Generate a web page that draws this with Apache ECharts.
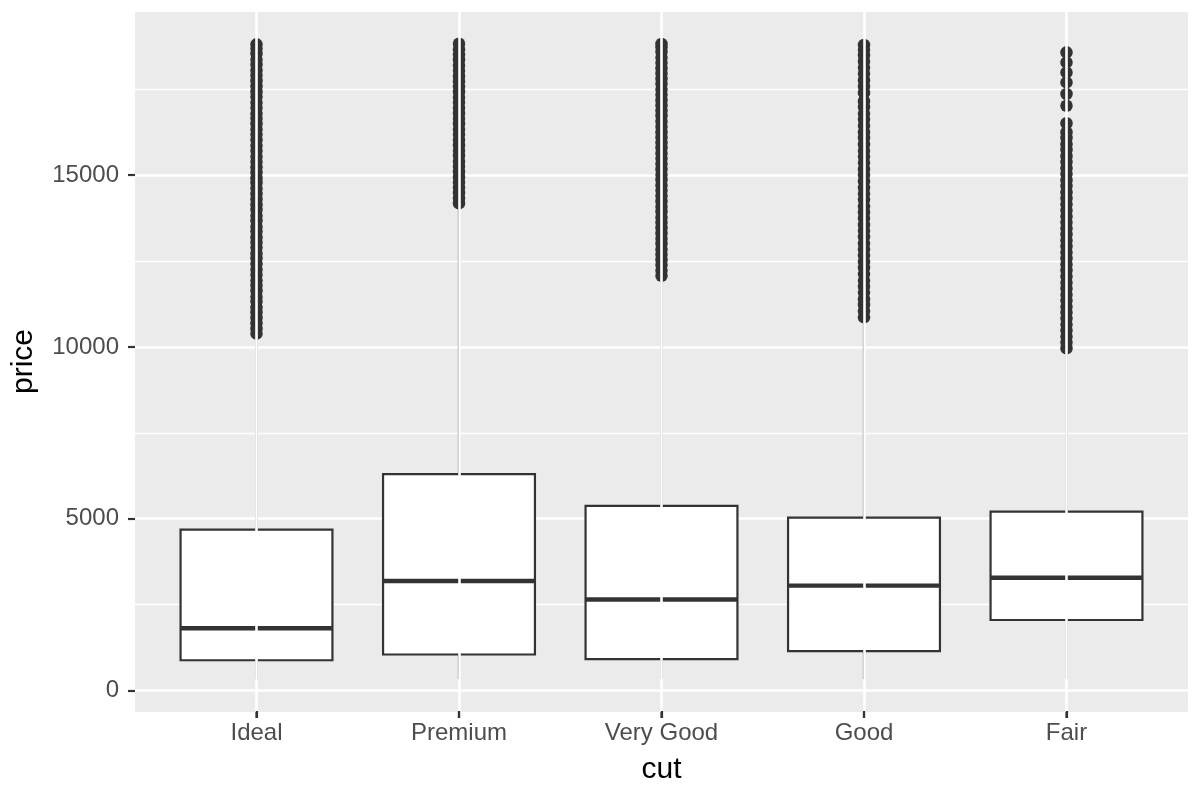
<!DOCTYPE html>
<html>
<head>
<meta charset="utf-8">
<title>price by cut</title>
<script src="https://cdn.jsdelivr.net/npm/echarts@6/dist/echarts.min.js"></script>
<style>
  html, body { margin: 0; padding: 0; background: #fff; }
  #chart { width: 1200px; height: 800px; }
</style>
</head>
<body>
<div id="chart"></div>
<script>
// categories on the x axis
var cuts = ['Ideal', 'Premium', 'Very Good', 'Good', 'Fair']

// box stats per cut: lower whisker, Q1, median, Q3, upper whisker
var whiskerLow = [326, 326, 336, 327, 337]
var q1 = [878, 1046, 912, 1145, 2050]
var median = [1810, 3185, 2648, 3050, 3282]
var q3 = [4678, 6296, 5373, 5028, 5206]
var whiskerHigh = [10370, 14170, 12060, 10850, 9930]

var outIdeal = [10385, 10520, 10690, 10840, 11010, 11150, 11320, 11460, 11630, 11790, 11930, 12100, 12250, 12410, 12580, 12720, 12890, 13040, 13190, 13360, 13500, 13670, 13820, 13990, 14130, 14300, 14450, 14610, 14770, 14910, 15080, 15230, 15390, 15540, 15710, 15860, 16020, 16180, 16330, 16490, 16650, 16790, 16960, 17110, 17280, 17420, 17590, 17740, 17900, 18050, 18210, 18360, 18530, 18680, 18806]
var outPremium = [14180, 14330, 14480, 14630, 14790, 14940, 15090, 15250, 15400, 15560, 15710, 15870, 16020, 16180, 16330, 16490, 16640, 16800, 16950, 17110, 17260, 17420, 17570, 17730, 17880, 18040, 18190, 18350, 18500, 18660, 18823]
var outVeryGood = [12070, 12220, 12380, 12530, 12690, 12840, 13000, 13150, 13310, 13460, 13620, 13770, 13930, 14080, 14240, 14390, 14550, 14700, 14860, 15010, 15170, 15320, 15480, 15630, 15790, 15940, 16100, 16250, 16410, 16560, 16720, 16870, 17030, 17180, 17340, 17490, 17650, 17800, 17960, 18110, 18270, 18420, 18580, 18720, 18818]
var outGood = [10860, 11040, 11220, 11390, 11580, 11760, 11930, 12120, 12300, 12470, 12660, 12840, 13010, 13200, 13380, 13550, 13740, 13920, 14090, 14280, 14460, 14630, 14820, 15000, 15170, 15360, 15540, 15710, 15900, 16080, 16250, 16440, 16620, 16790, 16980, 17150, 17390, 17580, 17760, 17950, 18130, 18310, 18490, 18650, 18788]
var outFair = [9960, 10130, 10300, 10480, 10650, 10830, 11000, 11170, 11350, 11520, 11700, 11870, 12050, 12230, 12400, 12580, 12750, 12930, 13100, 13280, 13450, 13620, 13800, 13970, 14150, 14330, 14500, 14680, 14850, 15030, 15200, 15380, 15550, 15730, 15900, 16080, 16250, 16510, 17020, 17360, 17700, 17990, 18280, 18574]

// y axis range and tick values
var yMin = -598.85
var yMax = 19747.85
var yMajor = [0, 5000, 10000, 15000]
var yMinor = [2500, 7500, 12500, 17500]
var xTicks = [1, 2, 3, 4, 5]

var boxData = cuts.map(function (c, i) {
    return [i + 1, whiskerLow[i], q1[i], median[i], q3[i], whiskerHigh[i]]
})
var outlierData = []
;[outIdeal, outPremium, outVeryGood, outGood, outFair].forEach(function (arr, i) {
    arr.forEach(function (v) { outlierData.push([i + 1, v]) })
})

var ink = '#333333'
var font = "'Liberation Sans', Arial, Helvetica, sans-serif"

var chart = echarts.init(document.getElementById('chart'))
chart.setOption({
    animation: false,
    grid: {
        left: 135, right: 12, top: 12, bottom: 89,
        show: true, backgroundColor: '#EBEBEB', borderWidth: 0
    },
    xAxis: {
        type: 'value', min: 0.4, max: 5.6, position: 'bottom', z: 10,
        name: 'cut', nameLocation: 'middle', nameGap: 44,
        nameTextStyle: { color: '#000', fontSize: 30, fontFamily: font },
        axisLine: { show: true, onZero: false, lineStyle: { color: '#EBEBEB', width: 1 } },
        axisTick: { show: true, length: 7, customValues: xTicks, lineStyle: { color: ink, width: 2.2 } },
        axisLabel: {
            customValues: xTicks, margin: 10, color: '#4D4D4D', fontSize: 24, fontFamily: font,
            formatter: function (v) { return cuts[Math.round(v) - 1] || '' }
        },
        splitLine: { show: true, lineStyle: { color: '#ffffff', width: 2.6 } }
    },
    yAxis: [{
        type: 'value', min: yMin, max: yMax,
        name: 'price', nameLocation: 'middle', nameGap: 96,
        nameTextStyle: { color: '#000', fontSize: 30, fontFamily: font },
        axisLine: { show: false, onZero: false },
        axisTick: { show: true, length: 7, customValues: yMajor, lineStyle: { color: ink, width: 2.2 } },
        axisLabel: {
            customValues: yMajor, margin: 16, color: '#4D4D4D', fontSize: 24, fontFamily: font,
            formatter: function (v) { return String(Math.round(v)) }
        },
        splitLine: { show: true, lineStyle: { color: '#ffffff', width: 2.6 } }
    }, {
        type: 'value', min: yMin, max: yMax, position: 'left',
        axisLine: { show: false, onZero: false },
        axisTick: { show: false, customValues: yMinor },
        axisLabel: { show: false, customValues: yMinor },
        splitLine: { show: true, lineStyle: { color: '#ffffff', width: 1.3 } }
    }],
    series: [{
        type: 'custom',
        xAxisIndex: 0,
        yAxisIndex: 0,
        data: boxData,
        clip: false,
        z: 3,
        renderItem: function (params, api) {
            var x = api.value(0)
            var half = api.size([0.375, 0])[0]
            var pBase = api.coord([x, yMin])
            var pLo = api.coord([x, api.value(1)])
            var pQ1 = api.coord([x, api.value(2)])
            var pMed = api.coord([x, api.value(3)])
            var pQ3 = api.coord([x, api.value(4)])
            var pHi = api.coord([x, api.value(5)])
            var line = { stroke: ink, lineWidth: 2.2 }
            return {
                type: 'group',
                children: [
                    // x tick mark under the panel
                    { type: 'line', shape: { x1: pBase[0], y1: pBase[1], x2: pBase[0], y2: pBase[1] + 7 }, style: line },
                    { type: 'line', shape: { x1: pLo[0], y1: pLo[1], x2: pQ1[0], y2: pQ1[1] }, style: line },
                    { type: 'line', shape: { x1: pQ3[0], y1: pQ3[1], x2: pHi[0], y2: pHi[1] }, style: line },
                    { type: 'rect', shape: { x: pQ1[0] - half, y: pQ3[1], width: half * 2, height: pQ1[1] - pQ3[1] },
                      style: { fill: '#ffffff', stroke: ink, lineWidth: 2.2 } },
                    { type: 'line', shape: { x1: pMed[0] - half, y1: pMed[1], x2: pMed[0] + half, y2: pMed[1] },
                      style: { stroke: ink, lineWidth: 4.4 } }
                ]
            }
        }
    }, {
        type: 'scatter',
        xAxisIndex: 0,
        yAxisIndex: 0,
        data: outlierData,
        symbol: 'circle',
        symbolSize: 12.5,
        itemStyle: { color: ink, opacity: 1 },
        z: 4
    }]
})
</script>
</body>
</html>
